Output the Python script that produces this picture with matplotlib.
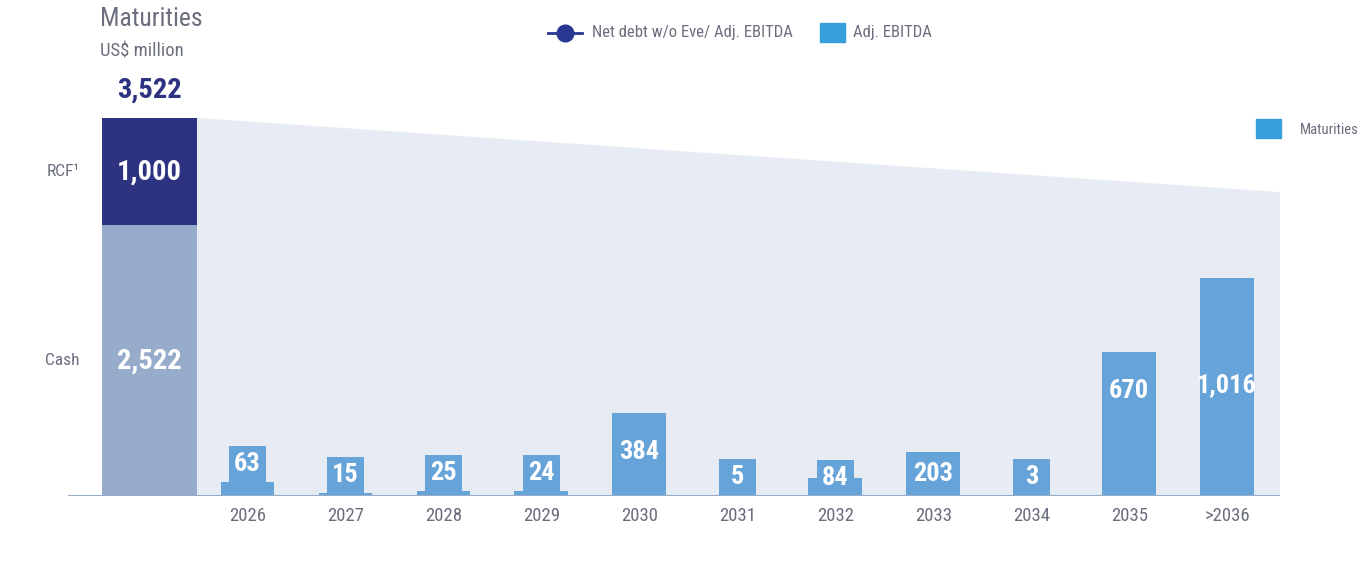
import matplotlib.pyplot as plt
from matplotlib.lines import Line2D
from matplotlib.patches import Rectangle
import matplotlib.transforms as mtransforms

plt.rcParams['font.family'] = ['Roboto Condensed', 'Roboto', 'DejaVu Sans']

# data
years = ['2026', '2027', '2028', '2029', '2030', '2031', '2032', '2033', '2034', '2035', '>2036']
maturities = [63, 15, 25, 24, 384, 5, 84, 203, 3, 670, 1016]
cash = 2522
rcf = 1000

# colours
GRAY = '#6b6e7d'
NAVY = '#2e3381'
CASH_C = '#97abcb'
BAR_C = '#65a3d8'
BG_C = '#e7ebf4'
LEG_C = '#35a0dc'

W, H = 1361, 576
fig = plt.figure(figsize=(W / 100, H / 100), dpi=100)

# back axes: liquidity bar + shaded area; front axes: maturities
ax = fig.add_axes([68 / W, 80 / H, 1212 / W, 400 / H])
ax2 = ax.twinx()
xmin, xmax = -0.832, 11.538
px_liq = 378 / (cash + rcf)   # pixels per US$ million, liquidity bar
px_mat = 0.215                # pixels per US$ million, maturities
total = cash + rcf

# shaded wedge behind the maturities
ax.fill([0.485, xmax, xmax, 0.485], [total, 0.804 * total, 0, 0],
        color=BG_C, lw=0, zorder=0)

ax.bar(0, cash, width=0.97, color=CASH_C, zorder=2)
ax.bar(0, rcf, bottom=cash, width=0.97, color=NAVY, zorder=2)
ax.text(0, cash / 2, f'{cash:,}', color='white', fontsize=20.5, fontweight='bold',
        ha='center', va='center', zorder=3)
ax.text(0, cash + rcf / 2, f'{rcf:,}', color='white', fontsize=20.5, fontweight='bold',
        ha='center', va='center', zorder=3)
ax.annotate(f'{total:,}', (0, total), xytext=(0, 20), textcoords='offset points',
            color=NAVY, fontsize=20.5, fontweight='bold', ha='center', va='center')

side = mtransforms.blended_transform_factory(fig.transFigure, ax.transData)
ax.text(80 / W, cash / 2, 'Cash', transform=side, ha='right', va='center',
        fontsize=12.5, color=GRAY)
ax.text(80 / W, cash + rcf / 2, 'RCF¹', transform=side, ha='right', va='center',
        fontsize=12.5, color=GRAY)

# maturities
xs = list(range(1, len(years) + 1))
ax2.bar(xs, maturities, width=0.55, color=BAR_C, zorder=2)
box_h = 36 / px_mat
for x, v in zip(xs, maturities):
    if v * px_mat < 40:
        bottom = v if v < 70 else 0
        ax2.add_patch(Rectangle((x - 0.19, bottom), 0.38, box_h, color=BAR_C, lw=0, zorder=2))
        y = bottom + box_h / 2
    else:
        y = min(max(v / 2, v - 180), 516)
    ax2.text(x, y, f'{v:,}', color='white', fontsize=19, fontweight='bold',
             ha='center', va='center', zorder=3)

ax2.axhline(0, color=CASH_C, lw=2.2, zorder=4)
ax.set_xticks(xs)
ax.set_xticklabels(years, fontsize=13.5, color=GRAY)
ax.tick_params(axis='x', length=0, pad=8)
ax.tick_params(axis='y', left=False, labelleft=False)
ax2.tick_params(axis='y', right=False, labelright=False)

ax.set_xlim(xmin, xmax)
ax.set_ylim(0, 400 / px_liq)
ax2.set_ylim(0, 400 / px_mat)
for a in (ax, ax2):
    for s in a.spines.values():
        s.set_visible(False)
ax.patch.set_visible(False)

# titles
fig.text(100 / W, 1 - 19 / H, 'Maturities', fontsize=18.5, color=GRAY, va='center')
fig.text(100 / W, 1 - 52 / H, 'US$ million', fontsize=13.5, color=GRAY, va='center')

# legend on top
fig.add_artist(Line2D([548 / W, 582 / W], [1 - 33 / H] * 2, color='#283891', lw=2,
                      transform=fig.transFigure))
fig.add_artist(Line2D([565 / W], [1 - 33 / H], marker='o', markersize=12, color='#283891',
                      transform=fig.transFigure))
fig.text(592 / W, 1 - 33 / H, 'Net debt w/o Eve/ Adj. EBITDA', fontsize=12, color=GRAY,
         va='center')
fig.add_artist(Rectangle((820 / W, 1 - 42 / H), 25 / W, 19 / H, color=LEG_C,
                         transform=fig.transFigure))
fig.text(853 / W, 1 - 33 / H, 'Adj. EBITDA', fontsize=12, color=GRAY, va='center')

fig.add_artist(Rectangle((1256 / W, 1 - 138 / H), 25 / W, 19 / H, color=LEG_C,
                         transform=fig.transFigure))
fig.text(1300 / W, 1 - 130 / H, 'Maturities', fontsize=10.5, color=GRAY, va='center')

fig.savefig('out.png', dpi=100)
